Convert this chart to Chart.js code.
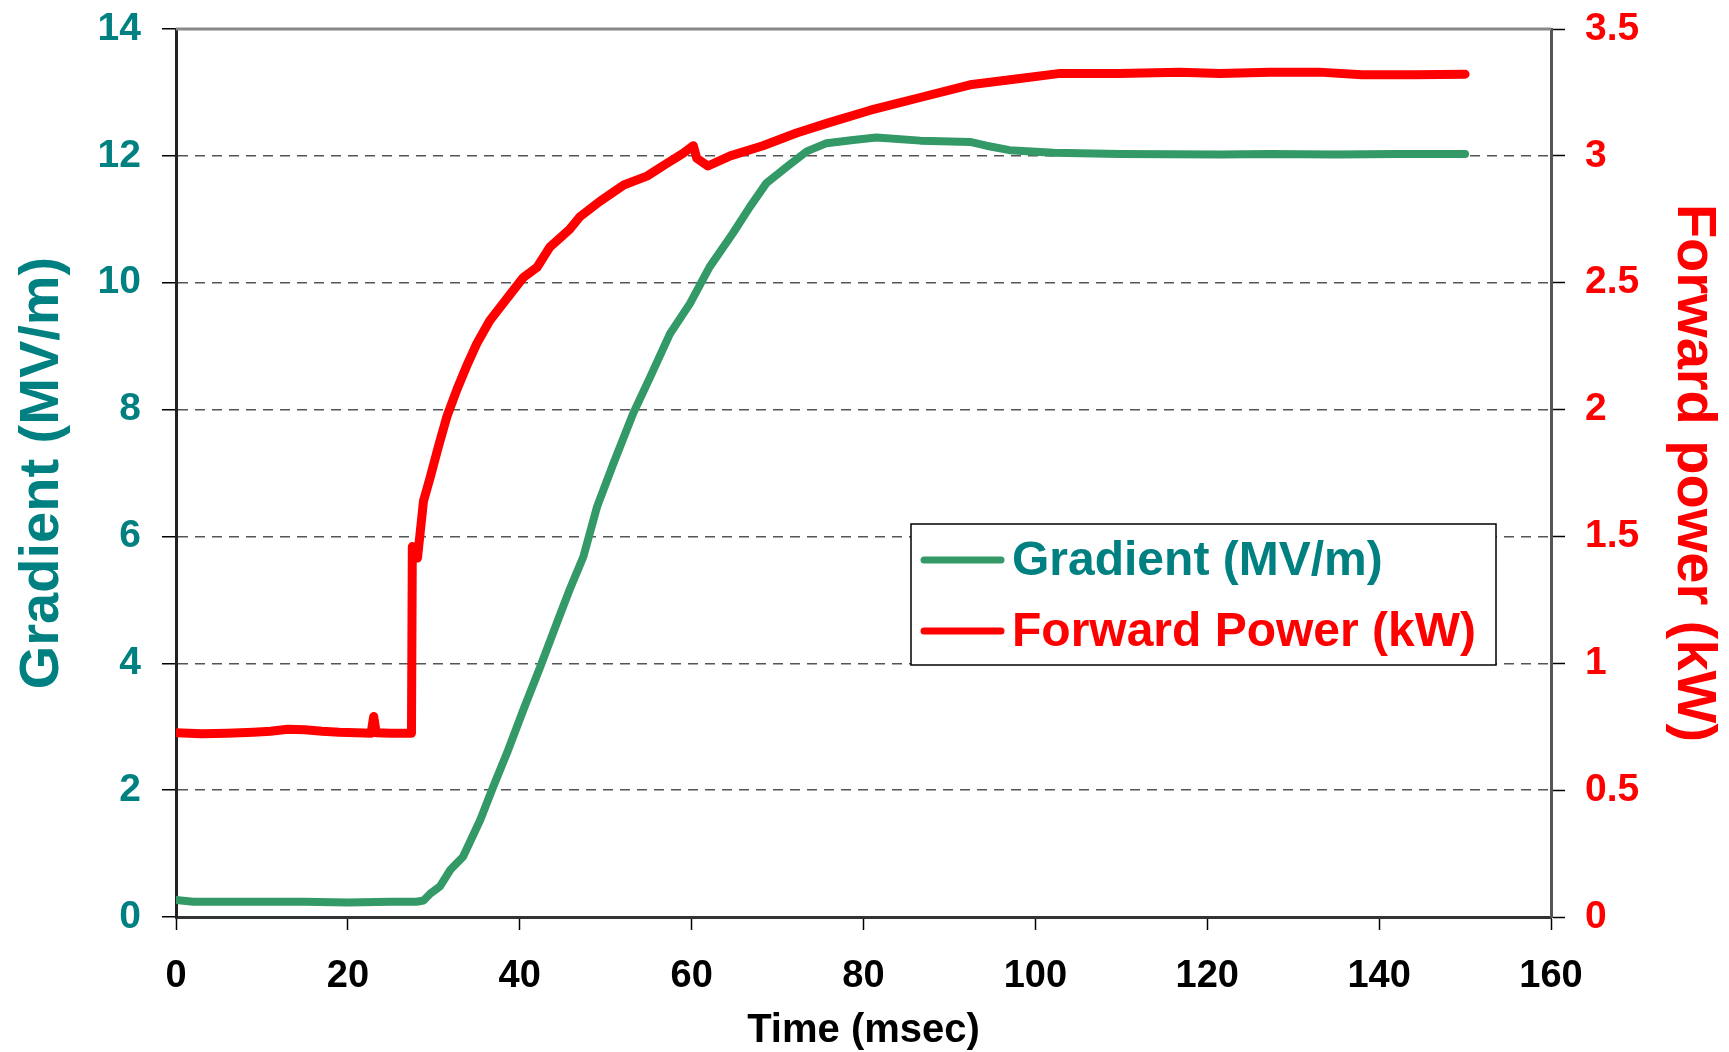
<!DOCTYPE html>
<html>
<head>
<meta charset="utf-8">
<script src="https://cdn.jsdelivr.net/npm/chart.js@4.4.1/dist/chart.umd.min.js"></script>
<style>
    body { margin: 0; background: #fff; }
    #wrap { width: 1729px; height: 1052px; }
</style>
</head>
<body>
<div id="wrap"><canvas id="chart" width="1729" height="1052"></canvas></div>
<script>
// Gradient (MV/m)
const gradTime = [0, 2, 5, 10, 15, 20, 25, 28.0, 28.8, 29.6, 30.7, 31.9, 33.4, 35.4, 36.9, 38.5, 40.4, 42.4, 44.3, 45.8, 47.4, 49.0, 50.9, 53.2, 55.2, 57.5, 59.8, 62.1, 64.8, 66.8, 68.7, 71.4, 73.4, 75.7, 78.8, 81.5, 86.6, 92.4, 94.3, 97.0, 102.1, 109.8, 121.5, 127.3, 135, 142, 150];
const gradMV = [0.27, 0.24, 0.24, 0.24, 0.24, 0.23, 0.24, 0.24, 0.26, 0.37, 0.48, 0.74, 0.95, 1.53, 2.05, 2.58, 3.26, 3.95, 4.63, 5.16, 5.68, 6.47, 7.15, 7.94, 8.52, 9.20, 9.67, 10.25, 10.78, 11.20, 11.57, 11.86, 12.07, 12.20, 12.25, 12.29, 12.24, 12.22, 12.16, 12.09, 12.05, 12.03, 12.02, 12.03, 12.02, 12.03, 12.03];

// Forward power (kW)
const powerTime = [0, 3, 6, 9, 11, 13, 15, 17, 19, 21, 22.7, 23.0, 23.3, 25, 27.4, 27.5, 27.8, 28.1, 28.8, 29.6, 30.5, 31.5, 32.7, 33.8, 35.0, 36.5, 38.1, 40.4, 42.0, 43.5, 45.8, 47.0, 49.3, 52.1, 54.8, 57.1, 59.0, 60.2, 60.6, 61.9, 64.5, 68.3, 72.2, 75.9, 80.8, 86.6, 92.4, 98.2, 102.9, 109.8, 116.8, 121.5, 127.3, 133, 138, 144, 150];
const powerKW = [0.726, 0.722, 0.724, 0.728, 0.732, 0.740, 0.738, 0.732, 0.728, 0.726, 0.724, 0.79, 0.726, 0.724, 0.724, 1.46, 1.44, 1.415, 1.64, 1.735, 1.85, 1.97, 2.08, 2.17, 2.26, 2.35, 2.42, 2.52, 2.56, 2.64, 2.71, 2.76, 2.82, 2.885, 2.92, 2.97, 3.01, 3.04, 2.99, 2.96, 3.00, 3.04, 3.09, 3.13, 3.18, 3.23, 3.28, 3.305, 3.325, 3.325, 3.33, 3.325, 3.33, 3.33, 3.32, 3.32, 3.322];

const xTicks = [0, 20, 40, 60, 80, 100, 120, 140, 160];

const teal = '#008080';
const green = '#339966';
const red = '#ff0000';
const fontName = '"Liberation Sans", Arial, sans-serif';

function points(xs, ys) {
    let out = [];
    for (let i = 0; i < xs.length; i++) {
        out.push({ x: xs[i], y: ys[i] });
    }
    return out;
}

// fixed width for the side axes, no extra room for the top/bottom labels
function sideFit(width) {
    return (scale) => {
        scale.width = width;
        scale.paddingTop = 0;
        scale.paddingBottom = 0;
    };
}

// legend box inside the plot, plus the grey top edge of the frame
const boxLegend = {
    id: 'boxLegend',
    afterDatasetsDraw(chart) {
        const ctx = chart.ctx;
        const area = chart.chartArea;

        ctx.save();
        ctx.strokeStyle = '#888';
        ctx.lineWidth = 3;
        ctx.beginPath();
        ctx.moveTo(area.left, area.top);
        ctx.lineTo(area.right, area.top);
        ctx.stroke();

        const bx = area.left + 735;
        const by = area.top + 495;
        ctx.fillStyle = '#fff';
        ctx.fillRect(bx, by, 585, 141);
        ctx.strokeStyle = '#000';
        ctx.lineWidth = 1.5;
        ctx.strokeRect(bx, by, 585, 141);

        const textColors = [teal, red];
        ctx.font = 'bold 48px ' + fontName;
        ctx.textBaseline = 'middle';
        chart.data.datasets.forEach((ds, i) => {
            const y = by + 36 + i * 71;
            ctx.strokeStyle = ds.borderColor;
            ctx.lineWidth = 7;
            ctx.lineCap = 'round';
            ctx.beginPath();
            ctx.moveTo(bx + 13, y);
            ctx.lineTo(bx + 90, y);
            ctx.stroke();
            ctx.fillStyle = textColors[i];
            ctx.fillText(ds.label, bx + 101, y + 2);
        });
        ctx.restore();
    }
};

new Chart(document.getElementById('chart'), {
    type: 'line',
    data: {
        datasets: [{
            label: 'Gradient (MV/m)',
            data: points(gradTime, gradMV),
            borderColor: green,
            borderWidth: 8,
            pointRadius: 0,
            borderCapStyle: 'round',
            borderJoinStyle: 'round',
            yAxisID: 'y',
        }, {
            label: 'Forward Power (kW)',
            data: points(powerTime, powerKW),
            borderColor: red,
            borderWidth: 9,
            pointRadius: 0,
            borderCapStyle: 'round',
            borderJoinStyle: 'round',
            yAxisID: 'y1',
        }]
    },
    options: {
        responsive: false,
        animation: false,
        devicePixelRatio: 1,
        layout: { padding: { top: 29, left: 0, right: 0, bottom: 0 } },
        plugins: {
            legend: { display: false },
            tooltip: { enabled: false },
        },
        scales: {
            x: {
                type: 'linear',
                min: 0,
                max: 160,
                afterBuildTicks: (scale) => { scale.ticks = xTicks.map(v => ({ value: v })); },
                afterFit: (scale) => { scale.height = 135; },
                ticks: {
                    color: '#000',
                    padding: 24,
                    font: { family: fontName, size: 38, weight: 'bold' },
                },
                grid: { drawOnChartArea: false, tickLength: 13, tickColor: '#000', tickWidth: 1.5 },
                border: { color: '#333', width: 3 },
                title: {
                    display: true,
                    text: 'Time (msec)',
                    color: '#000',
                    font: { family: fontName, size: 40, weight: 'bold', lineHeight: 1 },
                    padding: { top: 0, bottom: 1 },
                },
            },
            y: {
                position: 'left',
                min: 0,
                max: 14,
                afterFit: sideFit(176),
                ticks: {
                    stepSize: 2,
                    color: teal,
                    padding: 21,
                    font: { family: fontName, size: 39, weight: 'bold' },
                },
                grid: {
                    color: (c) => (c.tick && (c.tick.value === 0 || c.tick.value === 14)) ? 'rgba(0,0,0,0)' : '#555',
                    lineWidth: 1.5,
                    tickLength: 14,
                    tickColor: '#000',
                    tickWidth: 1.5,
                },
                border: { color: '#222', width: 3, dash: [10, 7] },
                title: {
                    display: true,
                    text: 'Gradient (MV/m)',
                    color: teal,
                    font: { family: fontName, size: 56, weight: 'bold', lineHeight: 1 },
                    padding: { top: 15, bottom: 0 },
                },
            },
            y1: {
                position: 'right',
                min: 0,
                max: 3.5,
                afterFit: sideFit(178),
                ticks: {
                    stepSize: 0.5,
                    color: red,
                    padding: 20,
                    font: { family: fontName, size: 39, weight: 'bold' },
                    callback: (v) => String(v),
                },
                grid: { drawOnChartArea: false, tickLength: 14, tickColor: '#000', tickWidth: 1.5 },
                border: { color: '#555', width: 3 },
                title: {
                    display: true,
                    text: 'Forward power (kW)',
                    color: red,
                    font: { family: fontName, size: 56, weight: 'bold', lineHeight: 1 },
                    padding: { top: 8, bottom: 0 },
                },
            },
        },
    },
    plugins: [boxLegend],
});
</script>
</body>
</html>
